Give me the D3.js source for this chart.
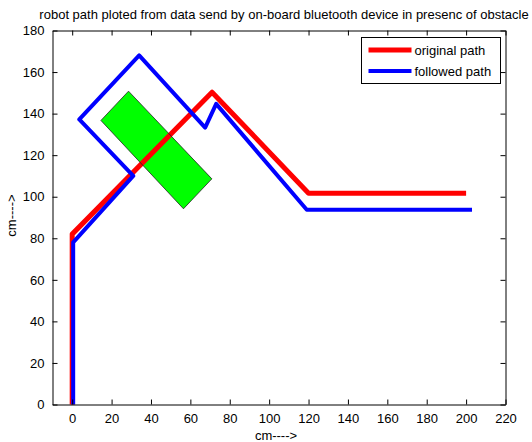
<!DOCTYPE html>
<html>
<head>
<meta charset="utf-8">
<script src="https://cdn.jsdelivr.net/npm/d3@7/dist/d3.min.js"></script>
<style>
  html, body { margin: 0; padding: 0; background: #fff; }
  svg { display: block; }
  text { font-family: "Liberation Sans", Arial, sans-serif; fill: #000; }
</style>
</head>
<body>
<svg id="chart" width="532" height="442"></svg>
<script>
// Planned route sent to the robot (cm)
const originalX = [0, 0, 71, 120, 200];
const originalY = [0, 82, 150.3, 101.7, 101.7];

// Route reported back by the on-board bluetooth device (cm)
const followedX = [0.5, 0.5, 31, 3.6, 34, 67.5, 73.1, 119.1, 203];
const followedY = [0, 78, 110, 137.2, 168, 133.3, 144.7, 93.7, 93.7];

// Obstacle corners (cm)
const obstacleX = [14.6, 28.6, 70.9, 56.5];
const obstacleY = [136.7, 150.8, 108.6, 94.2];

const xTicks = [0, 20, 40, 60, 80, 100, 120, 140, 160, 180, 200, 220];
const yTicks = [0, 20, 40, 60, 80, 100, 120, 140, 160, 180];
const seriesNames = ["original path", "followed path"];
const titleText = "robot path ploted from data send by on-board bluetooth device in presenc of obstacle";
const xLabel = "cm---->";
const yLabel = "cm---->";

const svg = d3.select("#chart");
const L = 52.5, R = 505.5, T = 30.5, B = 404.5;

const x = d3.scaleLinear().domain([-10, 220]).range([L, R]);
const y = d3.scaleLinear().domain([0, 180]).range([B, T]);

const toPts = (xs, ys) => xs.map((v, i) => [v, ys[i]]);
const line = d3.line().x(d => x(d[0])).y(d => y(d[1]));

// Obstacle fill
const obstaclePts = toPts(obstacleX, obstacleY);
svg.append("path")
  .attr("d", line(obstaclePts) + "Z")
  .attr("fill", "#00ff00")
  .attr("stroke", "none");

// Paths
svg.append("path")
  .attr("d", line(toPts(originalX, originalY)))
  .attr("fill", "none")
  .attr("stroke", "#ff0000")
  .attr("stroke-width", 5)
  .attr("stroke-linejoin", "round");

svg.append("path")
  .attr("d", line(toPts(followedX, followedY)))
  .attr("fill", "none")
  .attr("stroke", "#0000ff")
  .attr("stroke-width", 4)
  .attr("stroke-linejoin", "round");

// Obstacle outline
svg.append("path")
  .attr("d", line(obstaclePts) + "Z")
  .attr("fill", "none")
  .attr("stroke", "#222")
  .attr("stroke-width", 0.8);

// Axes box with inward ticks on all sides
const tickLen = 5;
const axB = d3.axisBottom(x).tickValues(xTicks).tickSizeInner(-tickLen).tickSizeOuter(0).tickPadding(9);
const axT = d3.axisTop(x).tickValues(xTicks).tickSizeInner(-tickLen).tickSizeOuter(0).tickFormat("");
const axL = d3.axisLeft(y).tickValues(yTicks).tickSizeInner(-tickLen).tickSizeOuter(0).tickPadding(8);
const axR = d3.axisRight(y).tickValues(yTicks).tickSizeInner(-tickLen).tickSizeOuter(0).tickFormat("");

function style(g) {
  g.select(".domain").attr("stroke", "#000").attr("stroke-width", 1);
  g.selectAll(".tick line").attr("stroke", "#000");
  g.selectAll(".tick text").attr("font-size", 13).attr("font-family", "Liberation Sans, Arial, sans-serif").attr("fill", "#000");
}
svg.append("g").attr("transform", `translate(0,${B})`).call(axB).call(style);
svg.append("g").attr("transform", `translate(0,${T})`).call(axT).call(style);
svg.append("g").attr("transform", `translate(${L},0)`).call(axL).call(style);
svg.append("g").attr("transform", `translate(${R},0)`).call(axR).call(style);

// Title and axis labels
svg.append("text")
  .attr("x", (L + R) / 2 + 5).attr("y", 19)
  .attr("text-anchor", "middle").attr("font-size", 13)
  .text(titleText);

svg.append("text")
  .attr("x", (L + R) / 2 - 3).attr("y", 440)
  .attr("text-anchor", "middle").attr("font-size", 13)
  .text(xLabel);

svg.append("text")
  .attr("transform", `translate(16,${(T + B) / 2 - 2}) rotate(-90)`)
  .attr("text-anchor", "middle").attr("font-size", 13)
  .text(yLabel);

// Legend
const lg = svg.append("g").attr("transform", "translate(361.5,37.5)");
lg.append("rect").attr("width", 139).attr("height", 46)
  .attr("fill", "#fff").attr("stroke", "#000").attr("stroke-width", 1);
const legendColors = ["#ff0000", "#0000ff"];
const legendWidths = [5, 4];
seriesNames.forEach((name, i) => {
  const cy = 12.5 + i * 21;
  lg.append("line").attr("x1", 7).attr("x2", 50).attr("y1", cy).attr("y2", cy)
    .attr("stroke", legendColors[i]).attr("stroke-width", legendWidths[i]);
  lg.append("text").attr("x", 53).attr("y", cy + 4.5).attr("font-size", 13).text(name);
});
</script>
</body>
</html>
